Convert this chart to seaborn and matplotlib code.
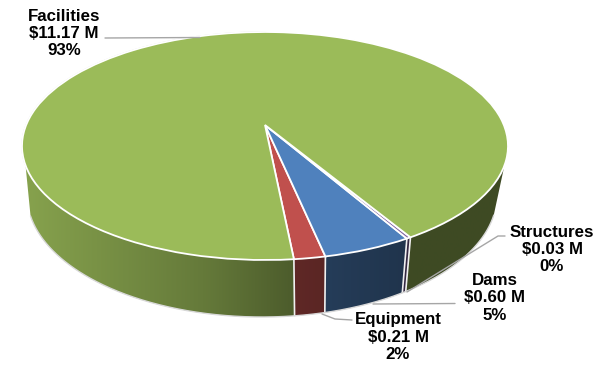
import numpy as np
import matplotlib
matplotlib.use("Agg")
import matplotlib.pyplot as plt
from matplotlib.transforms import Transform
from matplotlib.patches import Polygon
import seaborn as sns

# ---- data ----
categories = ["Equipment", "Dams", "Structures", "Facilities"]
values_musd = [0.21, 0.60, 0.03, 11.17]
value_labels = ["$0.21 M", "$0.60 M", "$0.03 M", "$11.17 M"]
percent_labels = ["2%", "5%", "0%", "93%"]
colors = ["#C0504D", "#4F81BD", "#8064A2", "#9BBB59"]

sns.set_theme(style="white")
plt.rcParams["font.family"] = ["Liberation Sans", "DejaVu Sans"]

W, H = 610, 367
CX, CY, A, B = 265.0, 146.0, 243.0, 114.0   # top ellipse in pixels
TILT = 21.0 / 114.0                          # apex offset (perspective)
BX, BY, BA, BB = 262.0, 195.0, 235.0, 122.0  # bottom ellipse in pixels
GREY = "#a6a6a6"


class Perspective(Transform):
    """Projective map of the unit disc onto itself, moving the centre up."""
    input_dims = 2
    output_dims = 2
    is_separable = False
    has_inverse = False

    def __init__(self, c):
        super().__init__()
        self.c = c

    def transform_non_affine(self, values):
        v = np.asarray(values, dtype=float)
        den = 1 + self.c * v[:, 1]
        return np.column_stack([v[:, 0] * np.sqrt(1 - self.c ** 2) / den,
                                (v[:, 1] + self.c) / den])


def px(x, y):
    return (np.asarray(x, float) - CX) / A, (CY - np.asarray(y, float)) / B


persp = Perspective(TILT)

fig = plt.figure(figsize=(W / 100, H / 100), dpi=100)
ax = fig.add_axes([0, 0, 1, 1])

wedges, _ = ax.pie(values_musd, colors=colors, startangle=-84.33, counterclock=True,
                   radius=1.0, wedgeprops=dict(edgecolor="white", linewidth=1.3))
ax.set_aspect("auto")
xlim = tuple(px([0, W], [0, 0])[0])
ylim = (float(px(0, H)[1]), float(px(0, 0)[1]))
ax.axis("off")
for w in wedges:
    w.set_transform(persp + ax.transData)
    w.set_zorder(3)


def rim(theta_deg):
    t = np.radians(theta_deg)
    return persp.transform(np.column_stack([np.cos(t), np.sin(t)]))


def floor(p):
    g = p[:, 0] + 0.02 * (1 - p[:, 0] ** 2)
    x = BX + BA * g
    y = BY + BB * np.sqrt(np.clip(1 - g ** 2, 0, None))
    return np.column_stack(px(x, y))


def shade(x):
    return np.interp(x, [-1.0, -0.25, 0.1, 0.6, 1.0], [0.87, 0.65, 0.50, 0.40, 0.40])


limit = float(px(0, 165)[1])
gx = np.linspace(-1.05, 1.05, 400)
for w, col in zip(wedges, colors):
    base = np.array(matplotlib.colors.to_rgb(col))
    ts = np.linspace(w.theta1, w.theta2, max(8, int((w.theta2 - w.theta1) * 4)))
    top_all = rim(ts)
    keep = top_all[:, 1] <= limit
    # a slice can show on the wall in separate runs (the large one shows on both sides)
    idx = np.flatnonzero(keep)
    if idx.size < 2:
        continue
    for run in np.split(idx, np.flatnonzero(np.diff(idx) > 1) + 1):
        if run.size < 2:
            continue
        top = top_all[run]
        bot = floor(top)
        poly = Polygon(np.vstack([top, bot[::-1]]), closed=True, transform=ax.transData,
                       facecolor="none", edgecolor="none")
        ax.add_patch(poly)
        grad = (base[None, :] * shade(gx)[:, None])[None, :, :]
        im = ax.imshow(grad, extent=(gx[0], gx[-1], -2.0, 2.0), aspect="auto", zorder=1,
                       interpolation="bilinear")
        im.set_clip_path(poly)

# white separators on the wall
for w in wedges:
    a = rim(np.array([w.theta1]))
    b = floor(a)
    ax.plot([a[0, 0], b[0, 0]], [a[0, 1], b[0, 1]], color="#f0f0f0", lw=1.2, zorder=2)

# faint outline of the floor and of the back rim
top = rim(np.linspace(180, 360, 721))
bot = floor(top[top[:, 1] <= limit])
ax.plot(bot[:, 0], bot[:, 1], color="#d8d8d8", lw=1.0, zorder=2)
back = rim(np.linspace(90, 200, 300))
back = back[back[:, 1] > limit]
ax.plot(back[:, 0], back[:, 1], color="#d8d8d8", lw=1.0, zorder=2.5)

# leader lines (pixel layout)
leaders = {
    "Facilities": ([105, 200], [38, 37.5]),
    "Structures": ([505, 498, 407], [236, 236, 292]),
    "Dams": ([455, 373], [303.5, 304]),
    "Equipment": ([352, 335, 322], [320, 319, 314]),
}
for name, (lx, ly) in leaders.items():
    xx, yy = px(lx, ly)
    ax.plot(xx, yy, color=GREY, lw=1.0, zorder=4)

label_pos = {"Facilities": (64, 33.5), "Structures": (552, 249.5),
             "Dams": (495, 298), "Equipment": (398, 337)}
for name, val, pct in zip(categories, value_labels, percent_labels):
    lx, ly = px(*label_pos[name])
    ax.text(lx, ly, f"{name}\n{val}\n{pct}".replace("$", r"\$"), ha="center", va="center",
            fontsize=12.2, fontweight="bold", color="black", linespacing=1.2, zorder=5)

ax.set_xlim(*xlim)
ax.set_ylim(*ylim)
fig.savefig("out.png", dpi=100, facecolor="white")
